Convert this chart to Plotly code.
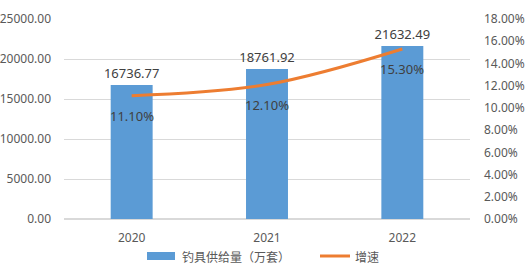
import plotly.graph_objects as go

years = ["2020", "2021", "2022"]
supply = [16736.77, 18761.92, 21632.49]
growth = [0.111, 0.121, 0.153]
supply_labels = ["16736.77", "18761.92", "21632.49"]
growth_labels = ["11.10%", "12.10%", "15.30%"]
bar_name = "钓具供给量（万套）"
line_name = "增速"

font_family = "Noto Sans, Noto Sans CJK SC, sans-serif"
tick_color = "#595959"
bar_color = "#5B9BD5"
line_color = "#ED7D31"

fig = go.Figure()
fig.add_trace(go.Bar(
    x=years, y=supply, name=bar_name,
    marker=dict(color=bar_color, line=dict(width=0)),
    width=0.31,
    text=supply_labels, textposition="outside", constraintext="none",
    textfont=dict(size=13, color="#404040", family=font_family),
    cliponaxis=False,
))
fig.add_trace(go.Scatter(
    x=years, y=growth, name=line_name, yaxis="y2",
    mode="lines",
    line=dict(color=line_color, width=3, shape="spline"),
    cliponaxis=False,
))

annotations = []
for i, (yv, lab) in enumerate(zip(growth, growth_labels)):
    annotations.append(dict(x=i, y=yv, xref="x", yref="y2", text=lab, showarrow=False,
                            yshift=-20, font=dict(size=13, color="#404040", family=font_family)))

# custom legend
annotations.append(dict(x=0.2857, y=-0.185, xref="paper", yref="paper", text=bar_name,
                        showarrow=False, xanchor="left", yanchor="middle",
                        font=dict(size=12, color=tick_color, family="Noto Sans CJK SC")))
annotations.append(dict(x=0.7118, y=-0.185, xref="paper", yref="paper", text=line_name,
                        showarrow=False, xanchor="left", yanchor="middle",
                        font=dict(size=12, color=tick_color, family="Noto Sans CJK SC")))
shapes = [
    dict(type="rect", xref="paper", yref="paper", x0=0.2044, x1=0.2734, y0=-0.205, y1=-0.165,
         fillcolor=bar_color, line=dict(width=0)),
    dict(type="line", xref="paper", yref="paper", x0=0.6305, x1=0.7044, y0=-0.185, y1=-0.185,
         line=dict(color=line_color, width=3)),
]

fig.update_layout(
    width=525, height=277,
    margin=dict(l=64, r=55, t=19, b=58, autoexpand=False),
    paper_bgcolor="white", plot_bgcolor="white",
    font=dict(family=font_family, size=12, color=tick_color),
    showlegend=False,
    annotations=annotations,
    shapes=shapes,
    xaxis=dict(type="category", range=[-0.5, 2.5], showgrid=False, showline=False, ticks="",
               ticklabelstandoff=10, tickfont=dict(size=12, color=tick_color), automargin=False),
    yaxis=dict(range=[0, 25000], dtick=5000, tickformat=".2f", showgrid=True,
               gridcolor="#D9D9D9", gridwidth=1, zeroline=True, zerolinecolor="#D9D9D9",
               showline=False, ticks="", ticklabelstandoff=12, automargin=False,
               tickfont=dict(size=12, color=tick_color)),
    yaxis2=dict(range=[0, 0.18], dtick=0.02, tickformat=".2%", overlaying="y", side="right",
                showgrid=False, zeroline=False, showline=False, ticks="", ticklabelstandoff=13,
                automargin=False, tickfont=dict(size=12, color=tick_color)),
)

fig.write_html("out.html")
